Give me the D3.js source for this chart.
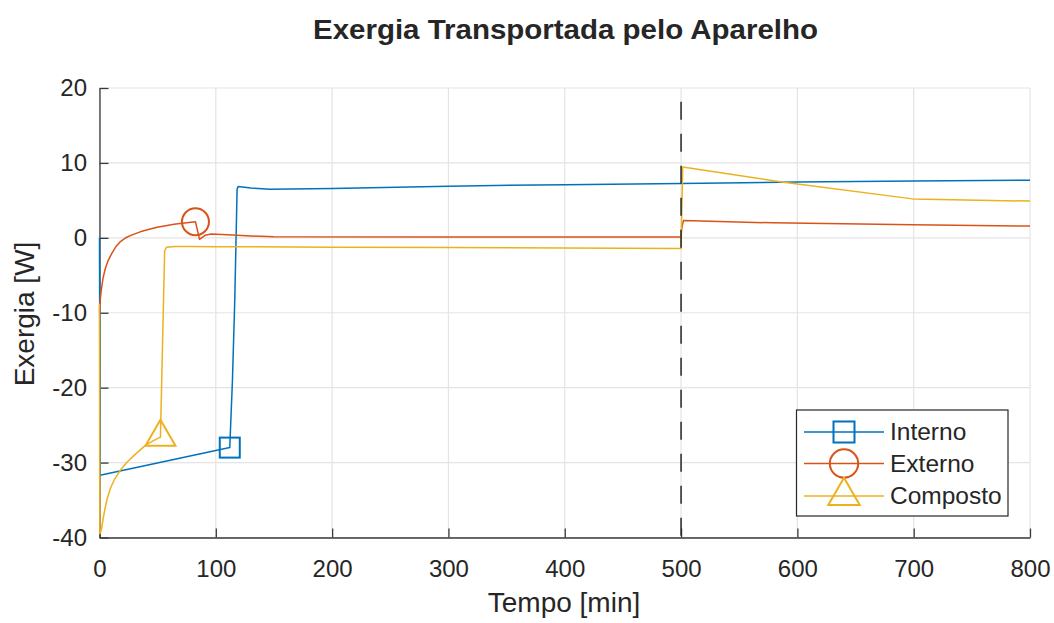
<!DOCTYPE html>
<html>
<head>
<meta charset="utf-8">
<script src="https://cdn.jsdelivr.net/npm/d3@7"></script>
<style>
  html, body { margin: 0; padding: 0; background: #fff; }
  svg { display: block; }
  text { font-family: "Liberation Sans", Arial, Helvetica, sans-serif; fill: #262626; }
</style>
</head>
<body>
<svg id="chart" width="1054" height="623"></svg>
<script>
// ---- Data ----
const title = "Exergia Transportada pelo Aparelho";
const xLabel = "Tempo [min]";
const yLabel = "Exergia [W]";
const xTicks = [0, 100, 200, 300, 400, 500, 600, 700, 800];
const yTicks = [-40, -30, -20, -10, 0, 10, 20];
const seriesNames = ["Interno", "Externo", "Composto"];

const internoT = [0, 0.5, 112, 114.3, 116.3, 118.3, 119.2, 130, 146.6, 200, 300, 400, 500, 600, 700, 800];
const internoV = [0, -31.7, -28.0, -19, -8.3, 6.5, 6.85, 6.65, 6.5, 6.6, 6.9, 7.1, 7.25, 7.45, 7.6, 7.7];
const internoMarkerIndex = 2;

const externoT = [0, 0.5, 1.5, 3, 5, 7.5, 10.5, 14, 18, 23, 28, 35, 42, 49.5, 57, 64, 73, 82.5, 86, 91, 96, 110, 130, 150, 300, 500, 500.5, 502, 579, 699, 800];
const externoV = [-10, -8.5, -7, -5.4, -4.1, -3.0, -2.1, -1.2, -0.5, 0.05, 0.4, 0.8, 1.1, 1.4, 1.62, 1.8, 1.97, 2.15, -0.2, 0.35, 0.5, 0.4, 0.25, 0.15, 0.12, 0.12, 1.2, 2.3, 2.0, 1.75, 1.57];
const externoMarkerIndex = 17;

const compostoT = [0, 0.3, 1, 2, 3, 4.5, 6.5, 9.5, 13, 18, 24, 30, 39.4, 46, 52.4, 56, 57.5, 65, 78, 100, 200, 300, 400, 500, 501.4, 585, 699, 800];
const compostoV = [-8.8, -39.5, -39.3, -38.6, -37.6, -36.3, -34.9, -33.4, -32.2, -31, -29.9, -29, -27.7, -27.1, -26.6, -1.8, -1.25, -1.15, -1.15, -1.18, -1.25, -1.3, -1.37, -1.42, 9.45, 7.5, 5.2, 4.9];
const compostoMarkerIndex = 14;

const dividerT = 500;

const colors = ["#0072BD", "#D95319", "#EDB120"];
const markerTypes = ["square", "circle", "triangle"];

// ---- Layout ----
const svg = d3.select("#chart");
const pLeft = 99.5, pRight = 1030, pTop = 88, pBottom = 537.5;
const x = d3.scaleLinear().domain([0, 800]).range([pLeft, pRight]);
const y = d3.scaleLinear().domain([-40, 20]).range([pBottom, pTop]);

// Grid
const grid = svg.append("g").attr("stroke", "#e4e4e4").attr("stroke-width", 1.2);
grid.selectAll("line.v").data(xTicks).join("line").attr("class", "v")
  .attr("x1", d => x(d)).attr("x2", d => x(d)).attr("y1", pTop).attr("y2", pBottom);
grid.selectAll("line.h").data(yTicks).join("line").attr("class", "h")
  .attr("y1", d => y(d)).attr("y2", d => y(d)).attr("x1", pLeft).attr("x2", pRight);

// Axes
const axisColor = "#3a3a3a";
const fmt = d => String(d);
const gx = svg.append("g").attr("transform", `translate(0,${pBottom})`)
  .call(d3.axisBottom(x).tickValues(xTicks).tickFormat(fmt).tickSizeInner(-9).tickSizeOuter(0).tickPadding(22));
const gy = svg.append("g").attr("transform", `translate(${pLeft},0)`)
  .call(d3.axisLeft(y).tickValues(yTicks).tickFormat(fmt).tickSizeInner(-9).tickSizeOuter(0).tickPadding(12.5));
[gx, gy].forEach(g => {
  g.select(".domain").attr("stroke", axisColor).attr("stroke-width", 1.3);
  g.selectAll(".tick line").attr("stroke", axisColor).attr("stroke-width", 1.3);
  g.selectAll(".tick text").attr("fill", "#262626").style("font-size", "24px")
    .style("font-family", '"Liberation Sans", Arial, sans-serif');
});

// Series
const series = [
  { t: internoT, v: internoV, m: internoMarkerIndex },
  { t: externoT, v: externoV, m: externoMarkerIndex },
  { t: compostoT, v: compostoV, m: compostoMarkerIndex }
];
const line = d3.line().x(d => x(d[0])).y(d => y(d[1]));

function drawMarker(g, type, cx, cy, color, s) {
  if (type === "square") {
    g.append("rect").attr("x", cx - 10 * s).attr("y", cy - 10 * s)
      .attr("width", 20 * s).attr("height", 20 * s)
      .attr("fill", "none").attr("stroke", color).attr("stroke-width", 2);
  } else if (type === "circle") {
    g.append("circle").attr("cx", cx).attr("cy", cy).attr("r", 13.5 * s)
      .attr("fill", "none").attr("stroke", color).attr("stroke-width", 2);
  } else {
    const h = 26 * s, w = 30 * s;
    const pts = [[cx, cy - 2 * h / 3], [cx + w / 2, cy + h / 3], [cx - w / 2, cy + h / 3]];
    g.append("path").attr("d", "M" + pts.map(p => p.join(",")).join("L") + "Z")
      .attr("fill", "none").attr("stroke", color).attr("stroke-width", 2)
      .attr("stroke-linejoin", "miter");
  }
}

const plot = svg.append("g");
series.forEach((s, i) => {
  const pts = s.t.map((t, k) => [t, s.v[k]]);
  plot.append("path").attr("d", line(pts)).attr("fill", "none")
    .attr("stroke", colors[i]).attr("stroke-width", 1.5).attr("stroke-linejoin", "round");
});
series.forEach((s, i) => {
  drawMarker(plot, markerTypes[i], x(s.t[s.m]), y(s.v[s.m]), colors[i], 1);
});

// Dashed divider
svg.append("line").attr("x1", x(dividerT)).attr("x2", x(dividerT))
  .attr("y1", pTop).attr("y2", pBottom)
  .attr("stroke", "#262626").attr("stroke-width", 1.5)
  .attr("stroke-dasharray", "18,14").attr("stroke-dashoffset", 18.3);

// Title and axis labels
svg.append("text").attr("x", 565.5).attr("y", 39).attr("text-anchor", "middle")
  .style("font-size", "28px").style("font-weight", "bold")
  .attr("textLength", 505).attr("lengthAdjust", "spacingAndGlyphs")
  .text(title);
svg.append("text").attr("x", 564).attr("y", 612).attr("text-anchor", "middle")
  .style("font-size", "28px").text(xLabel);
svg.append("text").attr("transform", "translate(34,314) rotate(-90)").attr("text-anchor", "middle")
  .style("font-size", "28px").text(yLabel);

// Legend
const lg = svg.append("g");
lg.append("rect").attr("x", 796.5).attr("y", 410).attr("width", 211.5).attr("height", 106)
  .attr("fill", "#fff").attr("stroke", "#262626").attr("stroke-width", 1.2);
const rowsY = [432, 463.5, 496];
seriesNames.forEach((name, i) => {
  const ry = rowsY[i];
  lg.append("line").attr("x1", 804).attr("x2", 884).attr("y1", ry).attr("y2", ry)
    .attr("stroke", colors[i]).attr("stroke-width", 1.5);
  drawMarker(lg, markerTypes[i], 844, ry, colors[i], 1.05);
  lg.append("text").attr("x", 890).attr("y", ry + 8).style("font-size", "24.5px").text(name);
});
</script>
</body>
</html>
